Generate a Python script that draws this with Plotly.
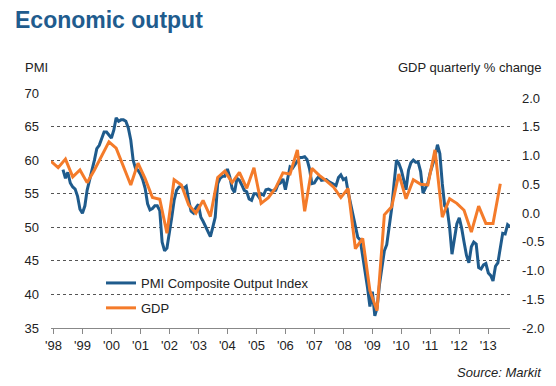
import pandas as pd
import plotly.graph_objects as go

# ---------------- data ----------------
pmi_start = "1998-05-01"   # first monthly PMI reading
pmi_1998 = [58.6, 57.3, 58.2, 56.6, 56.0, 55.7, 54.6, 52.7]
pmi_1999 = [52.1, 53.2, 55.5, 57.3, 58.5, 60.0, 61.7, 62.2, 63.4, 64.2, 64.2, 63.7]
pmi_2000 = [63.3, 64.5, 66.3, 65.8, 66.0, 66.0, 65.8, 64.8, 63.0, 60.0, 58.7, 58.5]
pmi_2001 = [57.9, 57.0, 55.8, 53.5, 52.6, 52.8, 53.2, 53.2, 52.5, 47.8, 46.5, 46.9]
pmi_2002 = [49.0, 51.6, 54.0, 55.5, 56.0, 56.1, 55.8, 56.1, 54.0, 52.4, 52.1, 52.9]
pmi_2003 = [53.4, 51.5, 50.9, 50.2, 49.4, 48.6, 50.0, 51.5, 56.5, 57.3, 57.6, 57.6]
pmi_2004 = [58.7, 57.5, 55.8, 55.2, 57.3, 57.0, 56.3, 55.5, 55.3, 54.2, 54.0, 55.0]
pmi_2005 = [55.0, 54.5, 55.0, 54.8, 55.6, 55.7, 55.5, 55.4, 55.5, 56.4, 56.6, 57.2]
pmi_2006 = [55.6, 57.2, 59.0, 58.8, 59.4, 60.0, 60.4, 60.4, 60.5, 60.1, 58.7, 56.5]
pmi_2007 = [56.6, 57.2, 57.6, 57.0, 57.0, 57.1, 56.8, 56.6, 56.4, 56.2, 57.4, 57.8]
pmi_2008 = [57.1, 57.3, 55.3, 53.5, 51.6, 49.8, 48.5, 48.1, 45.8, 43.8, 41.0, 38.2]
pmi_2009 = [40.4, 36.8, 38.0, 41.5, 44.0, 46.5, 47.4, 50.0, 52.8, 56.5, 60.0, 59.5]
pmi_2010 = [58.5, 57.0, 55.6, 58.5, 59.6, 60.0, 59.7, 59.7, 58.3, 55.1, 56.0, 56.6]
pmi_2011 = [58.2, 59.3, 60.5, 62.3, 61.0, 56.5, 53.2, 52.8, 50.0, 46.0, 48.5, 50.5]
pmi_2012 = [51.4, 49.8, 47.8, 45.8, 44.7, 47.1, 47.8, 47.5, 44.0, 43.8, 44.4, 44.6]
pmi_2013 = [43.2, 42.8, 42.0, 44.2, 44.7, 47.1, 49.1, 49.0, 50.4, 50.1]

gdp_start = "1997-12-01"   # first quarterly GDP reading (Q4 1997, plotted at quarter-end month)
gdp_values = [
    0.90,
    0.79, 0.94, 0.63, 0.75,
    0.53, 0.75, 1.00, 1.24,
    1.13, 0.82, 0.49, 0.87,
    0.60, 0.27, 0.24, -0.35,
    0.58, 0.49, 0.14, 0.00,
    0.22, -0.06, 0.62, 0.73,
    0.53, 0.71, 0.43, 0.79,
    0.17, 0.27, 0.44, 0.70,
    0.68, 1.10, 0.03, 0.78,
    0.66, 0.56, 0.45, 0.27,
    0.43, -0.62, -0.44, -1.35,
    -1.70, -0.03, 0.11, 0.68,
    0.25, 0.58, 0.50, 0.49,
    1.10, -0.07, 0.25, 0.17,
    0.05, -0.33, 0.12, -0.18,
    -0.18, 0.51,
]

year_ticks = list(range(1998, 2014))
year_labels = ["'98", "'99", "'00", "'01", "'02", "'03", "'04", "'05",
               "'06", "'07", "'08", "'09", "'10", "'11", "'12", "'13"]
pmi_ticks = [35, 40, 45, 50, 55, 60, 65, 70]
gdp_ticks = [-2.0, -1.5, -1.0, -0.5, 0.0, 0.5, 1.0, 1.5, 2.0]
gdp_tick_labels = ["-2.0", "-1.5", "-1.0", "-0.5", "0.0", "0.5", "1.0", "1.5", "2.0"]

# ---------------- build series ----------------
pmi_values = (pmi_1998 + pmi_1999 + pmi_2000 + pmi_2001 + pmi_2002 + pmi_2003 +
              pmi_2004 + pmi_2005 + pmi_2006 + pmi_2007 + pmi_2008 + pmi_2009 +
              pmi_2010 + pmi_2011 + pmi_2012 + pmi_2013)
pmi_dates = pd.date_range(pmi_start, periods=len(pmi_values), freq="MS")
gdp_dates = pd.date_range(gdp_start, periods=len(gdp_values), freq="3MS")

BLUE = "#1F5B8C"
ORANGE = "#F47B2A"
FONT = "Arial, Liberation Sans, sans-serif"
TXT = "#222222"

fig = go.Figure()
fig.add_trace(go.Scatter(
    x=pmi_dates, y=pmi_values, name="PMI Composite Output Index",
    mode="lines", line=dict(color=BLUE, width=3), yaxis="y",
    legendgroup="a"))
fig.add_trace(go.Scatter(
    x=gdp_dates, y=gdp_values, name="GDP",
    mode="lines", line=dict(color=ORANGE, width=3), yaxis="y2",
    legendgroup="b"))

# The page body has an 8px margin, so the figure is laid out in window pixels
# and shifted by that margin.
OFF = 8
WIN_W, WIN_H = 556, 386
W, H = WIN_W - OFF, WIN_H - OFF
plot_l, plot_r, plot_t, plot_b = 51, 510, 93, 328   # plot area in window pixels
L = plot_l - OFF
T = plot_t - OFF
R = WIN_W - plot_r
B = WIN_H - plot_b
pw, ph = plot_r - plot_l, plot_b - plot_t

def px_x(x):
    return (x - plot_l) / pw

def px_y(y):
    return (plot_b - y) / ph

fig.update_layout(
    width=W, height=H,
    margin=dict(l=L, r=R, t=T, b=B, pad=0),
    paper_bgcolor="white", plot_bgcolor="white",
    font=dict(family=FONT, size=13, color=TXT),
    title=dict(text="<b>Economic output</b>", x=(15 - OFF) / W, xanchor="left",
               y=1 - (20 - OFF) / H, yanchor="middle", yref="container",
               font=dict(family=FONT, size=23, color="#1F5C8E")),
    showlegend=True,
    legend=dict(x=px_x(101), y=px_y(268), xanchor="left", yanchor="top",
                bgcolor="rgba(0,0,0,0)", font=dict(size=13, color=TXT),
                traceorder="grouped", tracegroupgap=5, itemwidth=30),
    xaxis=dict(type="date", range=["1997-12-01", "2013-10-01"],
               tickvals=[f"{y}-01-01" for y in year_ticks], ticktext=year_labels,
               ticks="outside", ticklen=5, tickcolor="#888888",
               showline=True, linecolor="#888888", linewidth=1,
               showgrid=False, zeroline=False,
               tickfont=dict(size=13, color=TXT)),
    yaxis=dict(range=[35, 70], tickvals=pmi_ticks, showgrid=True,
               gridcolor="#555555", griddash="dot", gridwidth=1,
               zeroline=False, showline=False, ticks="",
               ticklabelstandoff=11, tickfont=dict(size=13, color=TXT)),
    yaxis2=dict(range=[-2.0, 2.09], tickvals=gdp_ticks, ticktext=gdp_tick_labels,
                overlaying="y", side="right", showgrid=False, zeroline=False,
                showline=False, ticks="", ticklabelstandoff=11,
                tickfont=dict(size=13, color=TXT)),
    shapes=[dict(type="rect", xref="paper", yref="paper",
                 x0=0.005, x1=px_x(348), y0=px_y(322), y1=px_y(266),
                 fillcolor="white", line=dict(width=0), layer="between")],
    annotations=[
        dict(text="PMI", xref="paper", yref="paper", x=px_x(23), y=px_y(68),
             xanchor="left", yanchor="middle", showarrow=False,
             font=dict(size=13, color=TXT)),
        dict(text="GDP quarterly % change", xref="paper", yref="paper",
             x=px_x(544), y=px_y(68), xanchor="right", yanchor="middle",
             showarrow=False, font=dict(size=13, color=TXT)),
        dict(text="<i>Source: Markit</i>", xref="paper", yref="paper",
             x=px_x(544), y=px_y(372), xanchor="right", yanchor="middle",
             showarrow=False, font=dict(size=13, color=TXT)),
    ],
)

fig.write_html("out.html")
